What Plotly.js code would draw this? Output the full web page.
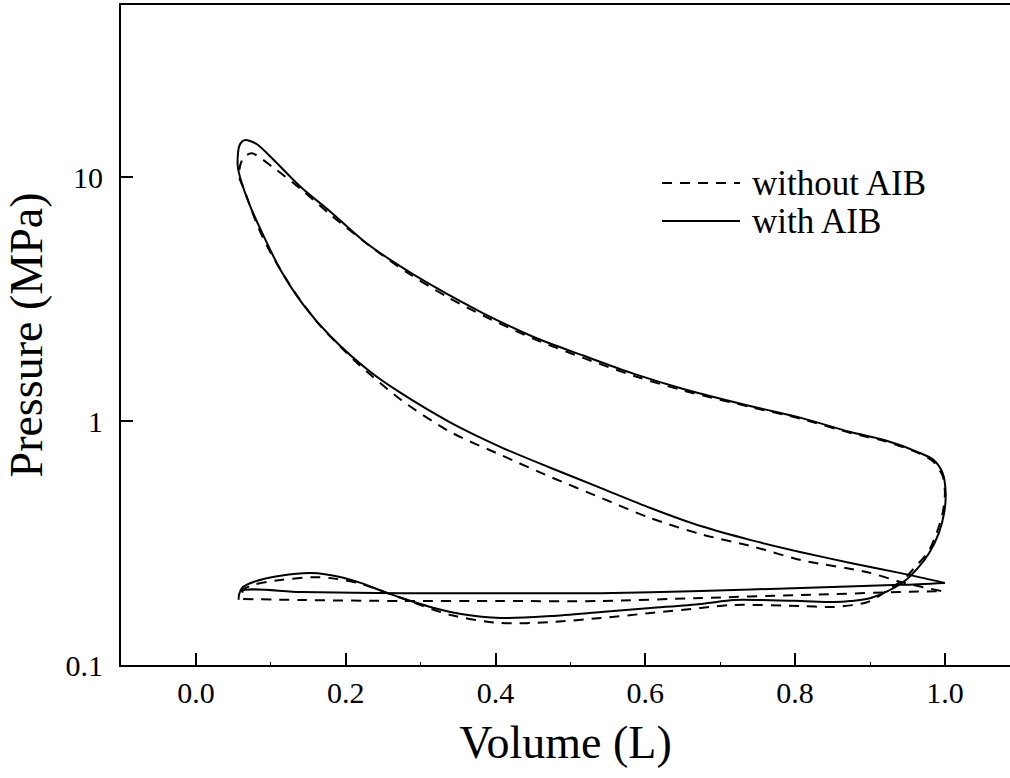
<!DOCTYPE html>
<html>
<head>
<meta charset="utf-8">
<script src="https://cdn.plot.ly/plotly-3.0.1.min.js"></script>
<style>
html,body{margin:0;padding:0;background:#fff;overflow:hidden;}
#chart{width:1010px;height:778px;}
</style>
</head>
<body>
<div id="chart"></div>
<script>
// ---- with AIB (solid) ----
var withIntakeV = [0.057, 0.060, 0.140, 0.274, 0.407, 0.541, 0.674, 0.808, 0.941, 1.000];
var withIntakeP = [0.185, 0.201, 0.199, 0.197, 0.197, 0.197, 0.201, 0.207, 0.213, 0.217];
var withCompV = [1.000, 0.941, 0.874, 0.808, 0.741, 0.674, 0.607, 0.541, 0.474, 0.407, 0.340, 0.274, 0.234, 0.180, 0.144, 0.113, 0.091, 0.073, 0.060, 0.056, 0.056, 0.058, 0.062];
var withCompP = [0.217, 0.238, 0.262, 0.290, 0.325, 0.371, 0.440, 0.531, 0.642, 0.782, 0.985, 1.30, 1.58, 2.22, 2.98, 4.16, 5.68, 7.53, 9.72, 10.99, 12.3, 13.4, 14.0];
var withExpV = [0.067, 0.075, 0.083, 0.104, 0.140, 0.180, 0.224, 0.270, 0.314, 0.385, 0.451, 0.518, 0.585, 0.652, 0.741, 0.808, 0.874, 0.919, 0.964, 0.985, 0.997, 1.001, 0.999, 0.992, 0.979, 0.964, 0.948, 0.932];
var withExpP = [14.18, 13.95, 13.52, 11.74, 9.10, 7.19, 5.47, 4.36, 3.61, 2.75, 2.21, 1.85, 1.56, 1.35, 1.15, 1.03, 0.901, 0.836, 0.746, 0.692, 0.612, 0.507, 0.420, 0.348, 0.288, 0.250, 0.223, 0.207];
var withExhV = [0.901, 0.874, 0.852, 0.808, 0.754, 0.718, 0.674, 0.607, 0.541, 0.474, 0.407, 0.354, 0.318, 0.287, 0.256, 0.220, 0.194, 0.154, 0.113, 0.077, 0.063, 0.059];
var withExhP = [0.1882, 0.1829, 0.1812, 0.1829, 0.1847, 0.1847, 0.178, 0.1713, 0.1649, 0.1588, 0.1558, 0.1618, 0.1713, 0.1829, 0.197, 0.217, 0.229, 0.238, 0.232, 0.219, 0.209, 0.201];

// ---- without AIB (dashed) ----
var woIntakeV = [0.063, 0.140, 0.274, 0.407, 0.541, 0.674, 0.808, 0.941, 0.995];
var woIntakeP = [0.1864, 0.1847, 0.1829, 0.1829, 0.1829, 0.1882, 0.1936, 0.199, 0.201];
var woCompV = [0.995, 0.941, 0.897, 0.808, 0.745, 0.674, 0.607, 0.541, 0.474, 0.407, 0.340, 0.274, 0.216, 0.194, 0.163, 0.130, 0.100, 0.083, 0.063, 0.058, 0.058, 0.061, 0.066];
var woCompP = [0.201, 0.219, 0.240, 0.269, 0.305, 0.344, 0.400, 0.484, 0.589, 0.726, 0.901, 1.22, 1.72, 2.00, 2.52, 3.44, 4.88, 6.24, 9.10, 9.91, 10.7, 11.6, 12.2];
var woExpV = [0.075, 0.104, 0.140, 0.180, 0.234, 0.283, 0.336, 0.385, 0.451, 0.518, 0.585, 0.652, 0.741, 0.808, 0.874, 0.919, 0.964, 0.985, 0.997, 1.000, 0.997, 0.989, 0.977, 0.961, 0.948, 0.924];
var woExpP = [12.5, 10.89, 8.93, 6.99, 5.17, 4.04, 3.22, 2.69, 2.17, 1.81, 1.53, 1.33, 1.14, 1.02, 0.893, 0.828, 0.740, 0.679, 0.595, 0.507, 0.420, 0.348, 0.288, 0.254, 0.229, 0.203];
var woExhV = [0.897, 0.852, 0.808, 0.718, 0.674, 0.607, 0.541, 0.474, 0.407, 0.340, 0.274, 0.216, 0.180, 0.154, 0.113, 0.077, 0.063, 0.063];
var woExhP = [0.1812, 0.1729, 0.1745, 0.1762, 0.1713, 0.1633, 0.1558, 0.150, 0.1486, 0.1603, 0.1882, 0.217, 0.227, 0.229, 0.223, 0.213, 0.203, 0.1864];

// ---- axis ticks & labels ----
var xTickVals = [0.0, 0.2, 0.4, 0.6, 0.8, 1.0];
var xTickText = ["0.0", "0.2", "0.4", "0.6", "0.8", "1.0"];
var yTickVals = [0.1, 1, 10];
var yTickText = ["0.1", "1", "10"];
var seriesNames = ["without AIB", "with AIB"];

var FONT = '"Liberation Serif", "Times New Roman", Times, serif';
var solidLine = {color: '#000', width: 2, shape: 'spline', smoothing: 0.8};
var dashLine = {color: '#000', width: 2, shape: 'spline', smoothing: 0.8, dash: '10px,8px'};

function tr(x, y, line, name) {
  return {x: x, y: y, type: 'scatter', mode: 'lines', line: line, name: name, showlegend: false, hoverinfo: 'skip'};
}

var traces = [
  tr(woIntakeV, woIntakeP, dashLine, seriesNames[0]),
  tr(woCompV.concat(woExpV, woExhV), woCompP.concat(woExpP, woExhP), dashLine, seriesNames[0]),
  tr(withIntakeV, withIntakeP, solidLine, seriesNames[1]),
  tr(withCompV.concat(withExpV, withExhV), withCompP.concat(withExpP, withExhP), solidLine, seriesNames[1])
];

var layout = {
  width: 1010, height: 778,
  margin: {l: 121, r: 0, t: 5, b: 113},
  paper_bgcolor: '#fff', plot_bgcolor: '#fff',
  font: {family: FONT, color: '#000', size: 30},
  showlegend: false,
  xaxis: {
    range: [-0.1, 1.0869],
    tickvals: xTickVals, ticktext: xTickText,
    ticks: 'inside', ticklen: 12, tickwidth: 2, tickcolor: '#000',
    minor: {dtick: 0.1, tick0: 0, ticks: 'inside', ticklen: 3, tickwidth: 1, tickcolor: '#000'},
    showline: true, linewidth: 2, linecolor: '#000', mirror: true,
    showgrid: false, zeroline: false,
    tickfont: {family: FONT, size: 30, color: '#000'},
    title: {text: 'Volume (L)', font: {family: FONT, size: 46, color: '#000'}, standoff: 18}
  },
  yaxis: {
    type: 'log',
    range: [-1, 1.7049],
    tickvals: yTickVals, ticktext: yTickText,
    ticks: 'inside', ticklen: 12, tickwidth: 2, tickcolor: '#000',
    showline: true, linewidth: 2, linecolor: '#000', mirror: false,
    showgrid: false, zeroline: false,
    tickfont: {family: FONT, size: 30, color: '#000'},
    ticklabelstandoff: 10,
    title: {text: 'Pressure (MPa)', font: {family: FONT, size: 46, color: '#000'}, standoff: 8}
  },
  shapes: [
    {type: 'line', xref: 'paper', yref: 'paper', x0: 0.6086, x1: 0.6963, y0: 0.7303, y1: 0.7303,
     line: {color: '#000', width: 2, dash: '10px,8px'}},
    {type: 'line', xref: 'paper', yref: 'paper', x0: 0.6086, x1: 0.6963, y0: 0.6727, y1: 0.6727,
     line: {color: '#000', width: 2}}
  ],
  annotations: [
    {xref: 'paper', yref: 'paper', x: 0.7075, y: 0.7303, xanchor: 'left', yanchor: 'middle', showarrow: false,
     text: seriesNames[0], font: {family: FONT, size: 35, color: '#000'}},
    {xref: 'paper', yref: 'paper', x: 0.7075, y: 0.6727, xanchor: 'left', yanchor: 'middle', showarrow: false,
     text: seriesNames[1], font: {family: FONT, size: 35, color: '#000'}}
  ]
};

Plotly.newPlot('chart', traces, layout, {displayModeBar: false, staticPlot: true});
</script>
</body>
</html>
